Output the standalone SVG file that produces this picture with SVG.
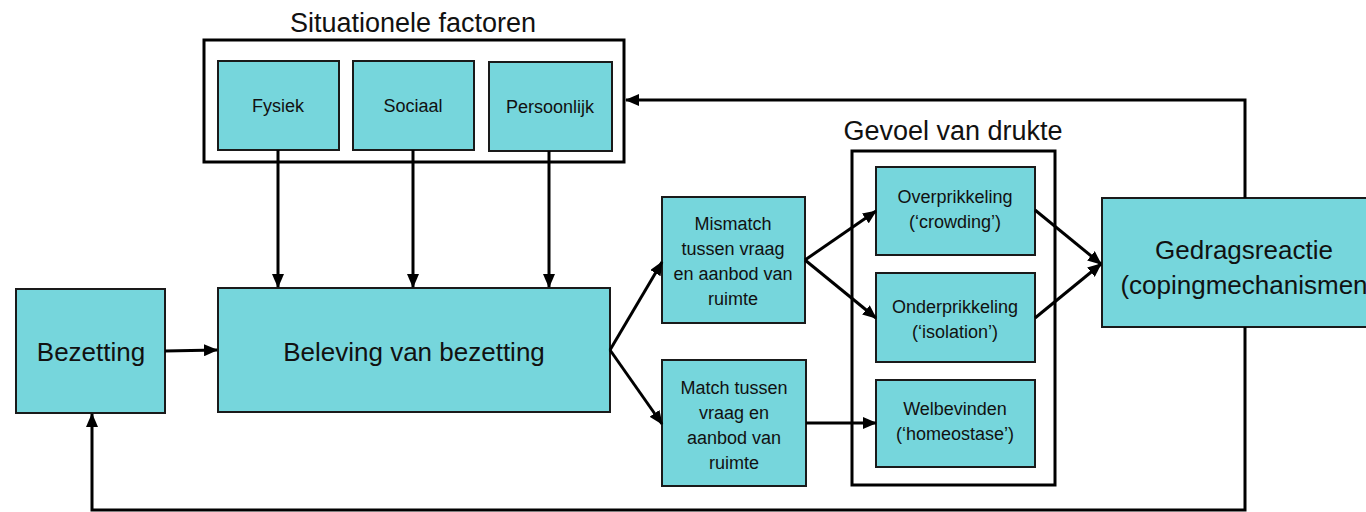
<svg xmlns="http://www.w3.org/2000/svg" width="1366" height="512" viewBox="0 0 1366 512">
<style>
.n{fill:#76d6dc;stroke:#1a1a1a;stroke-width:2}
.c{fill:none;stroke:#000;stroke-width:3}
.t{font-family:"Liberation Sans",Arial,sans-serif;fill:#111;text-anchor:middle}
.s{font-size:18px}
.m{font-size:26px}
.h{font-size:27px}
.l{font-size:26px}
.e{fill:none;stroke:#000;stroke-width:3}
</style>
<defs>
<marker id="a" markerUnits="userSpaceOnUse" markerWidth="14" markerHeight="12" refX="13" refY="6" orient="auto">
<path d="M0,0 L14,6 L0,12 z" fill="#000"/>
</marker>
</defs>
<rect width="1366" height="512" fill="#fff"/>
<g id="situationele">
<rect class="e" x="204" y="40" width="420" height="122"/>
<text class="t h" x="413" y="32">Situationele factoren</text>
</g>
<g id="fysiek"><rect class="n" x="218" y="61" width="121" height="89"/><text class="t s" x="278" y="112">Fysiek</text></g>
<g id="sociaal"><rect class="n" x="353" y="61" width="121" height="89"/><text class="t s" x="413" y="112">Sociaal</text></g>
<g id="persoonlijk"><rect class="n" x="489" y="62" width="123" height="89"/><text class="t s" x="550" y="113">Persoonlijk</text></g>
<g id="bezetting"><rect class="n" x="16" y="289" width="149" height="124"/><text class="t m" x="91" y="361">Bezetting</text></g>
<g id="beleving"><rect class="n" x="218" y="288" width="392" height="124"/><text class="t m" x="414" y="361">Beleving van bezetting</text></g>
<g id="mismatch"><rect class="n" x="662" y="197" width="143" height="126"/>
<text class="t s"><tspan x="733" y="230">Mismatch</tspan><tspan x="733" y="255">tussen vraag</tspan><tspan x="733" y="280">en aanbod van</tspan><tspan x="733" y="305">ruimte</tspan></text></g>
<g id="match"><rect class="n" x="662" y="360" width="144" height="126"/>
<text class="t s"><tspan x="734" y="394">Match tussen</tspan><tspan x="734" y="419">vraag en</tspan><tspan x="734" y="444">aanbod van</tspan><tspan x="734" y="469">ruimte</tspan></text></g>
<g id="gevoel">
<rect class="e" x="852" y="151" width="203" height="334"/>
<text class="t h" x="953" y="140">Gevoel van drukte</text>
</g>
<g id="overprikkeling"><rect class="n" x="876" y="167" width="159" height="88"/>
<text class="t s"><tspan x="955" y="203">Overprikkeling</tspan><tspan x="955" y="228">(‘crowding’)</tspan></text></g>
<g id="onderprikkeling"><rect class="n" x="876" y="273" width="159" height="89"/>
<text class="t s"><tspan x="955" y="313">Onderprikkeling</tspan><tspan x="955" y="338">(‘isolation’)</tspan></text></g>
<g id="welbevinden"><rect class="n" x="876" y="380" width="159" height="87"/>
<text class="t s"><tspan x="955" y="415">Welbevinden</tspan><tspan x="955" y="440">(‘homeostase’)</tspan></text></g>
<g id="gedrag"><rect class="n" x="1102" y="198" width="280" height="129"/>
<text class="t l"><tspan x="1244" y="259">Gedragsreactie</tspan><tspan x="1244" y="294">(copingmechanismen</tspan></text></g>
<g id="connectors">
<line class="c" x1="278" y1="150" x2="278" y2="287" marker-end="url(#a)"/>
<line class="c" x1="413" y1="150" x2="413" y2="287" marker-end="url(#a)"/>
<line class="c" x1="549" y1="151" x2="549" y2="287" marker-end="url(#a)"/>
<line class="c" x1="165" y1="351" x2="217" y2="350" marker-end="url(#a)"/>
<polyline class="c" points="610,350 662,262" marker-end="url(#a)"/>
<polyline class="c" points="610,350 662,424" marker-end="url(#a)"/>
<line class="c" x1="805" y1="260" x2="876" y2="211" marker-end="url(#a)"/>
<line class="c" x1="805" y1="260" x2="876" y2="318" marker-end="url(#a)"/>
<line class="c" x1="806" y1="423" x2="876" y2="423" marker-end="url(#a)"/>
<line class="c" x1="1035" y1="210" x2="1101" y2="264" marker-end="url(#a)"/>
<line class="c" x1="1035" y1="318" x2="1101" y2="264" marker-end="url(#a)"/>
<polyline class="c" points="1245,198 1245,100 626,100" marker-end="url(#a)"/>
<polyline class="c" points="1245,327 1245,510 92,510 92,414" marker-end="url(#a)"/>
</g>
</svg>
